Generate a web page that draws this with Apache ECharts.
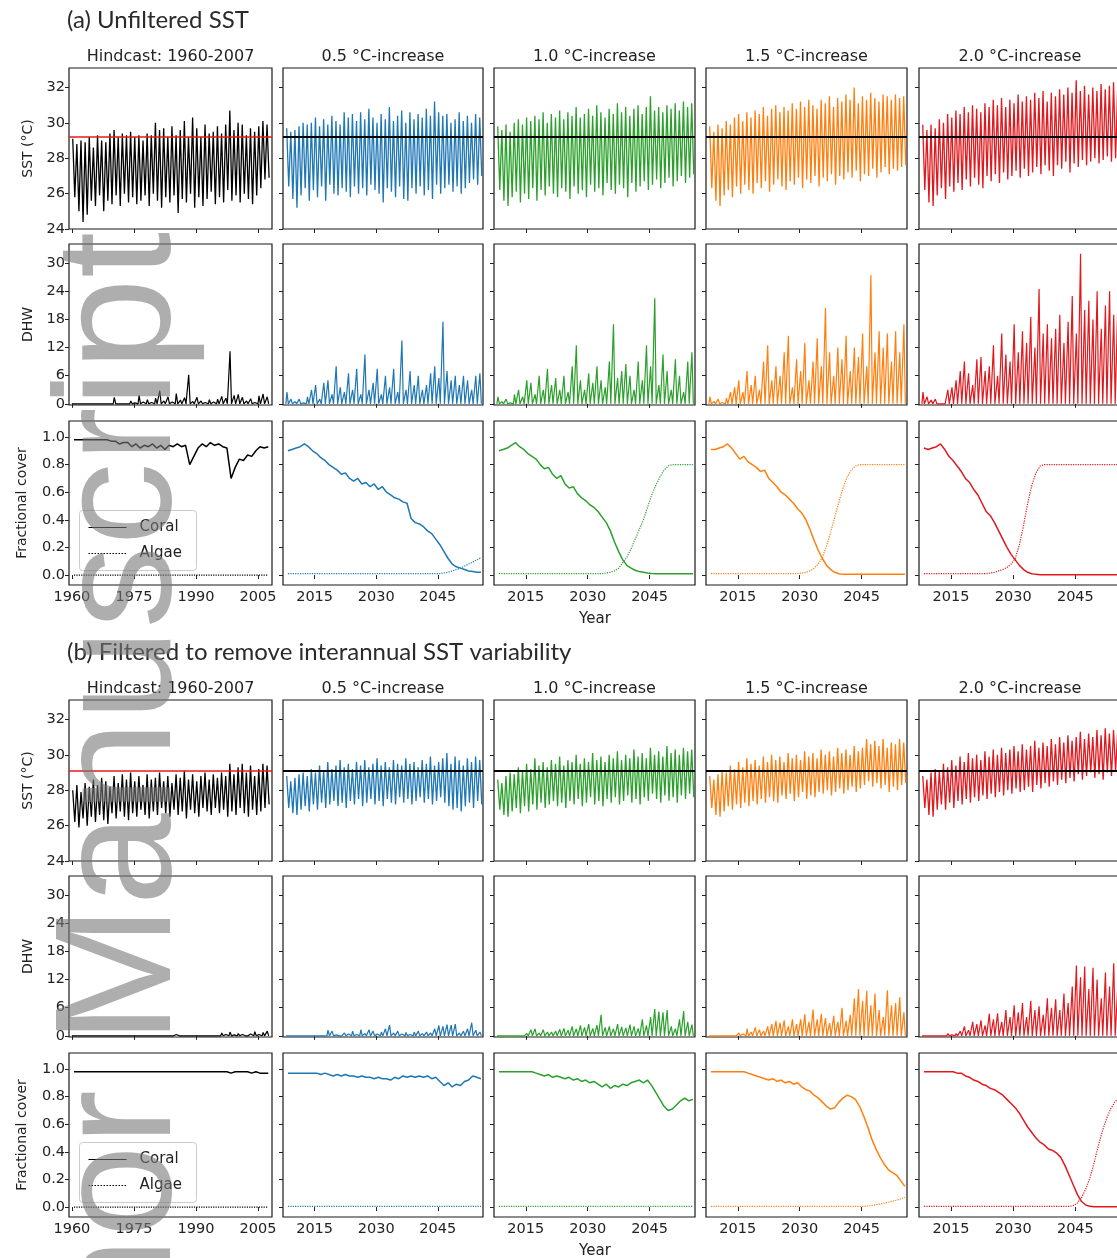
<!DOCTYPE html>
<html>
<head>
<meta charset="utf-8">
<title>Unfiltered and filtered SST, DHW and cover</title>
<script src="https://cdn.jsdelivr.net/npm/echarts@6/dist/echarts.min.js"></script>
<style>
    html, body { margin: 0; padding: 0; background: #fff; }
    #chart { width: 1117px; height: 1258px; }
</style>
</head>
<body>
<div id="chart"></div>
<script>
// years: hindcast 1960-2007, scenarios 2008-2055 (one value per year)
var HC_START = 1960;
var SC_START = 2008;

var COL_TITLES = ['Hindcast: 1960-2007', '0.5 °C-increase', '1.0 °C-increase', '1.5 °C-increase', '2.0 °C-increase'];
var COLORS = ['#000000', '#1f77b4', '#2ca02c', '#ff7f0e', '#e0191e'];
var X_TICKS_HC = [1960, 1975, 1990, 2005];
var X_TICKS_SC = [2015, 2030, 2045];
var SST_TICKS = [24, 26, 28, 30, 32];
var DHW_TICKS = [0, 6, 12, 18, 24, 30];
var COVER_TICKS = [0, 0.2, 0.4, 0.6, 0.8, 1.0];
var MMM_A = 29.2; // bleaching threshold line (a)
var MMM_B = 29.1; // (b)

// ---- (a) unfiltered SST: yearly peaks / troughs ----
var A_SST_MAX_HC = [29.1,28.8,29.0,28.9,29.2,28.6,29.3,29.0,28.9,29.4,29.6,29.2,29.4,29.3,29.5,29.2,29.3,29.0,29.4,29.3,30.0,29.6,29.7,29.2,29.8,29.3,29.6,30.1,29.2,30.3,29.7,29.2,29.9,29.4,29.5,29.8,29.4,29.9,30.7,29.6,30.0,29.9,29.3,29.7,29.5,29.8,30.1,29.9];
var A_SST_MIN_HC = [25.8,25.0,24.4,24.8,25.6,25.3,25.9,25.0,25.6,25.4,25.9,25.3,26.0,25.5,25.8,25.4,25.6,25.9,25.3,26.0,25.6,25.2,25.8,25.5,25.9,24.9,25.7,25.5,26.0,25.2,25.8,25.3,25.7,26.1,25.4,25.8,25.5,26.2,25.6,25.9,25.5,26.0,25.7,25.4,25.9,26.3,26.8,26.9];
var A_SST_MAX_05 = [29.7,29.5,29.6,29.8,30.0,29.9,30.0,30.3,29.8,30.2,29.9,30.4,30.1,29.9,30.6,30.3,30.5,30.1,30.6,30.2,30.8,30.3,30.0,30.5,30.2,30.9,30.1,30.4,30.7,30.0,30.6,30.2,30.5,30.3,30.8,30.4,31.2,30.6,30.4,30.5,30.0,30.2,30.6,30.1,30.4,30.0,30.5,30.3];
var A_SST_MIN_05 = [26.4,25.7,25.2,25.9,26.3,25.6,26.2,25.8,26.4,25.6,26.5,26.0,25.9,26.3,26.1,25.8,26.4,26.0,26.3,25.9,26.5,26.2,26.0,25.5,26.3,26.1,25.8,26.4,25.7,25.6,26.3,26.0,26.4,25.9,26.2,25.7,26.5,26.0,26.3,26.5,26.1,26.4,26.0,26.3,26.6,26.8,26.5,27.0];
var A_SST_MAX_10 = [29.8,29.6,29.9,29.5,30.0,30.2,29.9,30.3,30.1,30.4,30.2,30.6,30.0,30.5,30.3,30.7,30.2,30.6,30.4,30.9,30.3,30.5,30.8,30.4,31.0,30.6,30.3,30.8,30.5,31.1,30.6,30.9,30.4,30.8,31.0,30.5,30.9,31.5,30.7,30.9,30.6,31.0,30.8,31.1,30.7,31.2,30.9,31.1];
var A_SST_MIN_10 = [26.2,25.6,25.3,25.8,26.1,25.5,26.0,25.7,26.3,25.6,26.2,25.9,26.4,26.0,25.8,26.3,26.1,25.7,26.4,26.0,26.2,25.8,26.5,26.1,26.3,25.9,26.6,26.2,26.0,26.5,26.3,25.8,26.6,26.1,26.4,26.7,26.2,26.5,26.8,26.3,26.6,26.9,26.4,26.7,27.0,26.6,26.9,27.1];
var A_SST_MAX_15 = [29.8,29.5,29.9,29.7,30.1,29.9,30.3,30.5,30.1,30.6,30.3,30.7,30.5,30.9,30.4,30.8,31.0,30.6,30.9,30.7,31.1,30.8,31.2,30.9,31.3,31.0,30.8,31.3,31.1,31.5,30.9,31.4,31.2,31.6,31.3,32.0,31.1,31.5,31.3,31.7,31.4,31.2,31.6,31.5,31.3,31.6,31.4,31.5];
var A_SST_MIN_15 = [26.3,25.6,25.3,25.9,26.2,25.8,26.4,26.0,26.5,26.2,26.0,26.6,26.3,26.7,26.1,26.5,26.8,26.4,26.2,26.7,26.5,26.9,26.3,26.8,26.6,27.0,26.4,26.9,26.7,27.1,26.5,27.0,26.8,27.2,26.9,27.3,26.7,27.1,27.0,27.4,26.9,27.2,27.5,27.1,27.4,27.3,27.5,27.6];
var A_SST_MAX_20 = [29.9,29.6,29.9,29.7,30.2,30.0,30.5,30.3,30.7,30.5,30.9,30.6,31.0,30.8,30.6,31.1,30.9,31.3,31.0,31.4,30.9,31.3,31.1,31.6,31.2,31.5,31.3,31.7,31.4,31.8,31.2,31.7,31.5,31.9,31.6,32.0,31.7,32.4,31.8,32.1,31.6,32.0,31.8,32.2,31.9,32.1,32.3,32.0];
var A_SST_MIN_20 = [26.2,25.5,25.3,25.9,26.3,25.7,26.4,26.1,26.6,26.2,26.8,26.4,26.9,26.5,26.3,27.0,26.7,27.1,26.6,27.2,26.8,27.0,27.3,26.9,27.4,27.0,27.2,27.5,27.1,27.6,27.3,27.0,27.6,27.4,27.8,27.2,27.7,27.5,27.9,27.6,27.8,28.0,27.7,27.9,28.1,27.8,28.0,28.2];

// ---- (a) DHW yearly peaks ----
var A_DHW_HC = [0,0,0,0,0,0,0,0,0,0,1.4,0,0.3,0,0.6,0.2,1.8,0.4,0.9,0.3,1.2,2.8,0.6,1.5,0.4,2.2,0.8,1.3,6.2,0.5,1.4,0.6,0.3,0.9,0.4,1.0,1.6,1.2,11.2,1.8,2.0,1.4,0.6,1.1,0.3,1.7,2.1,1.5];
var A_DHW_05 = [2.5,1.0,0.5,1.0,0.2,1.5,3.0,4.0,1.0,4.5,5.0,2.0,8.0,3.5,2.5,6.5,3.0,7.5,2.0,10.5,3.0,4.5,7.5,2.0,6.0,3.5,7.5,2.5,13.5,3.0,7.0,4.0,6.0,3.0,4.0,6.5,8.0,5.5,17.5,7.0,5.0,6.0,4.0,6.0,5.0,3.0,6.0,6.5];
var A_DHW_10 = [1.5,0.5,1.0,0.2,2.0,3.0,1.5,5.0,4.5,2.0,6.0,3.0,7.5,4.0,5.5,3.0,6.0,2.5,8.0,12.5,5.0,3.0,6.5,4.5,8.0,5.0,3.5,9.0,17.0,5.5,7.0,8.5,6.0,3.0,9.0,5.0,12.5,8.0,22.5,4.0,10.5,7.0,3.0,9.5,6.0,2.5,9.0,11.0];
var A_DHW_15 = [1.5,0.5,1.0,0.3,1.2,2.5,3.5,5.0,2.5,7.0,4.0,6.0,3.0,9.0,12.5,5.0,8.0,6.0,11.0,14.5,3.5,9.5,7.0,13.0,5.0,9.0,14.0,8.0,20.5,11.0,6.0,12.0,9.5,14.5,7.0,12.0,10.0,15.0,8.0,27.5,11.0,15.5,12.0,15.0,9.0,15.5,11.0,17.0];
var A_DHW_20 = [2.5,1.5,0.8,1.0,0,0,3.0,3.5,5.0,7.0,9.0,6.5,4.0,9.5,10.0,7.0,8.0,12.5,6.0,15.0,10.5,9.0,17.0,11.0,15.5,13.0,18.5,12.0,24.5,15.0,17.0,14.0,16.0,19.0,13.0,17.5,23.0,15.0,32.0,20.0,22.0,18.0,24.0,16.0,21.0,24.0,19.0,22.0];

// ---- (a) fractional cover, one value per year ----
var A_CORAL_HC = [0.98,0.98,0.98,0.98,0.98,0.98,0.98,0.98,0.98,0.97,0.97,0.95,0.96,0.96,0.93,0.95,0.92,0.94,0.93,0.95,0.92,0.94,0.91,0.94,0.93,0.95,0.93,0.94,0.80,0.86,0.92,0.95,0.93,0.96,0.94,0.95,0.93,0.92,0.70,0.78,0.84,0.83,0.87,0.86,0.90,0.93,0.92,0.93];
var ALGAE_HC = [0,0,0,0,0,0,0,0,0,0,0,0,0,0,0,0,0,0,0,0,0,0,0,0,0,0,0,0,0,0,0,0,0,0,0,0,0,0,0,0,0,0,0,0,0,0,0,0];
var A_CORAL_05 = [0.90,0.91,0.92,0.93,0.95,0.93,0.90,0.88,0.85,0.83,0.80,0.78,0.76,0.73,0.74,0.70,0.68,0.70,0.66,0.67,0.64,0.66,0.62,0.64,0.60,0.58,0.56,0.55,0.53,0.52,0.41,0.38,0.37,0.35,0.32,0.30,0.26,0.22,0.17,0.12,0.08,0.06,0.05,0.04,0.03,0.025,0.02,0.02];
var A_ALGAE_05 = [0.01,0.01,0.01,0.01,0.01,0.01,0.01,0.01,0.01,0.01,0.01,0.01,0.01,0.01,0.01,0.01,0.01,0.01,0.01,0.01,0.01,0.01,0.01,0.01,0.01,0.01,0.01,0.01,0.01,0.01,0.01,0.01,0.01,0.01,0.01,0.01,0.01,0.01,0.015,0.02,0.03,0.04,0.05,0.065,0.08,0.095,0.11,0.125];
var A_CORAL_10 = [0.90,0.91,0.92,0.94,0.96,0.93,0.91,0.88,0.86,0.84,0.80,0.77,0.78,0.73,0.70,0.72,0.66,0.63,0.64,0.59,0.56,0.54,0.51,0.49,0.46,0.42,0.38,0.32,0.24,0.17,0.11,0.07,0.05,0.035,0.025,0.02,0.015,0.012,0.01,0.01,0.01,0.01,0.01,0.01,0.01,0.01,0.01,0.01];
var A_ALGAE_10 = [0.01,0.01,0.01,0.01,0.01,0.01,0.01,0.01,0.01,0.01,0.01,0.01,0.01,0.01,0.01,0.01,0.01,0.01,0.01,0.01,0.01,0.01,0.01,0.01,0.01,0.01,0.015,0.02,0.03,0.05,0.09,0.13,0.19,0.26,0.33,0.40,0.49,0.58,0.65,0.71,0.76,0.79,0.80,0.80,0.80,0.80,0.80,0.80];
var A_CORAL_15 = [0.91,0.91,0.92,0.93,0.95,0.92,0.88,0.84,0.86,0.82,0.80,0.78,0.75,0.76,0.70,0.67,0.64,0.60,0.58,0.55,0.52,0.48,0.45,0.40,0.33,0.25,0.18,0.12,0.07,0.04,0.02,0.01,0.005,0.005,0.005,0.005,0.005,0.005,0.005,0.005,0.005,0.005,0.005,0.005,0.005,0.005,0.005,0.005];
var A_ALGAE_15 = [0.01,0.01,0.01,0.01,0.01,0.01,0.01,0.01,0.01,0.01,0.01,0.01,0.01,0.01,0.01,0.01,0.01,0.01,0.01,0.01,0.01,0.01,0.015,0.02,0.03,0.05,0.08,0.13,0.21,0.31,0.42,0.53,0.63,0.71,0.76,0.79,0.80,0.80,0.80,0.80,0.80,0.80,0.80,0.80,0.80,0.80,0.80,0.80];
var A_CORAL_20 = [0.92,0.91,0.92,0.93,0.95,0.91,0.86,0.83,0.79,0.75,0.70,0.67,0.62,0.58,0.52,0.46,0.43,0.38,0.32,0.26,0.20,0.15,0.11,0.07,0.04,0.02,0.01,0.005,0.003,0.003,0.003,0.003,0.003,0.003,0.003,0.003,0.003,0.003,0.003,0.003,0.003,0.003,0.003,0.003,0.003,0.003,0.003,0.003];
var A_ALGAE_20 = [0.01,0.01,0.01,0.01,0.01,0.01,0.01,0.01,0.01,0.01,0.01,0.01,0.01,0.01,0.01,0.01,0.015,0.02,0.03,0.04,0.055,0.08,0.12,0.22,0.36,0.52,0.65,0.74,0.79,0.80,0.80,0.80,0.80,0.80,0.80,0.80,0.80,0.80,0.80,0.80,0.80,0.80,0.80,0.80,0.80,0.80,0.80,0.80];

// ---- (b) filtered SST: yearly peaks / troughs ----
var B_SST_MAX_HC = [28.0,28.3,27.9,28.4,28.2,28.6,28.3,28.7,28.5,28.2,28.8,28.4,28.9,28.6,29.0,28.5,28.8,28.3,28.9,28.6,28.7,29.0,28.5,28.8,28.4,28.9,28.7,29.1,28.6,28.9,28.5,28.8,29.0,28.6,28.9,28.7,29.0,28.8,29.5,28.9,29.3,29.5,29.0,29.4,28.8,29.2,29.5,29.4];
var B_SST_MIN_HC = [26.2,25.9,26.4,26.0,26.5,26.2,26.6,26.3,26.1,26.7,26.4,26.8,26.5,26.3,26.7,26.5,26.9,26.6,26.4,26.8,26.6,27.0,26.7,26.5,26.9,26.6,26.8,26.4,26.9,26.7,26.5,27.0,26.8,26.6,27.0,26.7,26.9,26.5,26.8,26.6,27.0,26.7,26.5,26.9,26.6,26.8,27.0,27.2];
var B_SST_MAX_05 = [28.8,28.5,28.7,28.9,29.0,28.8,29.2,29.0,29.4,29.1,29.6,29.2,29.4,29.7,29.3,29.5,29.2,29.6,29.4,29.7,29.3,29.5,29.8,29.4,29.6,29.3,29.7,29.5,29.4,29.8,29.5,29.6,29.3,29.7,29.5,29.9,29.4,29.6,29.8,30.1,29.5,29.9,29.7,29.4,29.8,29.6,29.9,29.7];
var B_SST_MIN_05 = [27.0,26.7,26.6,26.9,27.1,26.8,27.2,26.9,27.3,27.0,27.2,27.4,27.1,27.3,27.0,27.4,27.2,27.5,27.1,27.3,27.5,27.2,27.4,27.1,27.5,27.3,27.2,27.6,27.3,27.5,27.2,27.4,27.6,27.3,27.5,27.2,27.4,27.6,27.3,27.1,26.9,27.0,26.8,27.1,27.3,27.0,27.4,27.2];
var B_SST_MAX_10 = [28.6,28.4,28.8,29.0,28.9,29.3,29.1,29.5,29.2,29.8,29.4,29.6,29.3,29.7,29.5,29.9,29.4,29.7,29.6,30.0,29.5,29.8,29.6,30.1,29.7,29.9,29.6,30.0,29.8,30.2,29.7,30.0,29.8,30.3,29.9,30.1,29.8,30.4,30.0,30.2,29.9,30.5,30.1,30.3,30.0,30.4,30.2,30.3];
var B_SST_MIN_10 = [26.9,26.6,26.5,26.8,27.0,26.7,27.1,26.8,27.2,26.9,27.3,27.0,27.2,27.4,27.1,27.3,27.0,27.4,27.2,27.5,27.1,27.3,27.6,27.2,27.4,27.1,27.5,27.3,27.6,27.2,27.4,27.7,27.3,27.5,27.2,27.6,27.4,27.8,27.5,27.3,27.7,27.4,27.6,27.3,27.7,27.5,27.8,27.6];
var B_SST_MAX_15 = [28.8,28.6,28.9,29.1,29.0,29.4,29.2,29.6,29.3,29.8,29.5,29.7,29.4,29.9,29.6,30.0,29.7,29.9,29.6,30.1,29.8,30.0,29.7,30.2,29.9,30.1,29.8,30.3,30.0,30.2,29.9,30.4,30.1,30.3,30.0,30.5,30.2,30.4,30.9,30.6,30.8,30.5,30.9,30.4,30.7,30.6,30.9,30.7];
var B_SST_MIN_15 = [27.0,26.6,26.5,26.8,27.1,26.9,27.2,27.0,27.3,27.1,27.4,27.2,27.5,27.3,27.6,27.4,27.3,27.7,27.5,27.8,27.4,27.6,27.9,27.5,27.7,27.6,27.9,27.8,28.0,27.7,27.9,28.1,27.8,28.0,28.2,27.9,28.1,28.3,28.5,28.2,28.4,28.1,28.3,27.9,28.2,28.0,28.3,28.4];
var B_SST_MAX_20 = [28.8,28.6,29.0,29.2,29.1,29.5,29.3,29.7,29.4,29.9,29.6,30.1,29.8,30.0,29.7,30.2,29.9,30.3,30.0,30.4,30.1,30.3,30.5,30.2,30.6,30.3,30.5,30.8,30.4,30.7,30.5,30.9,30.6,31.0,30.7,31.1,30.8,31.0,31.3,30.9,31.2,31.0,31.4,31.1,31.5,31.2,31.4,31.3];
var B_SST_MIN_20 = [27.0,26.6,26.5,26.9,27.2,26.9,27.3,27.0,27.4,27.2,27.5,27.3,27.6,27.4,27.7,27.5,27.8,27.6,27.9,27.7,28.0,27.8,28.1,27.9,28.0,28.2,27.9,28.3,28.1,28.4,28.2,28.5,28.3,28.6,28.4,28.7,28.5,28.9,28.6,28.8,29.0,28.7,28.9,28.6,29.0,28.8,29.1,28.9];

// ---- (b) DHW yearly peaks ----
var B_DHW_HC = [0,0,0,0,0,0,0,0,0,0,0,0,0,0,0,0,0,0,0,0,0,0,0,0,0,0.3,0,0,0,0,0,0,0,0,0.2,0,0.6,0.3,0.8,0.2,0.5,0.3,0.2,0.4,0.9,0.3,0.7,1.0];
var B_DHW_05 = [0,0,0,0,0,0,0,0,0,0,1.2,1.0,0.2,0.3,0.6,0.4,1.0,0.3,1.3,0.5,1.3,1.0,0.4,0.8,1.5,2.3,0.6,1.0,0.4,0.7,0.3,0.8,1.0,0.5,0.8,0.6,1.5,2.2,2.0,2.4,2.3,2.5,0.6,1.0,1.5,2.8,1.2,0.8];
var B_DHW_10 = [0,0,0,0,0.2,0,0,0.5,1.3,1.5,0.6,1.3,0.8,0.8,1.0,1.4,1.6,1.2,2.0,1.5,2.2,1.8,2.5,1.6,2.3,4.5,1.8,2.0,1.5,2.5,1.9,1.7,2.4,2.0,1.6,3.5,2.2,4.0,5.7,5.2,5.0,5.5,2.0,1.5,3.5,5.3,3.0,2.4];
var B_DHW_15 = [0,0,0,0,0.3,0,0,0.6,0.4,1.5,0.8,1.8,1.3,1.0,2.0,2.5,3.2,2.8,3.3,2.0,3.5,2.5,3.5,4.6,3.0,5.6,3.5,4.7,3.8,2.7,4.3,3.0,6.0,3.2,4.5,8.0,10.0,7.5,9.6,6.5,9.0,5.5,4.0,9.7,6.5,7.0,8.2,5.0];
var B_DHW_20 = [0,0,0,0,0,0,0.5,0.2,0.5,1.0,2.0,1.2,3.0,2.5,3.3,2.2,4.7,3.5,4.8,3.0,5.5,4.0,6.5,5.0,7.0,4.0,7.5,5.5,6.3,4.5,8.0,6.0,7.8,5.5,9.0,7.0,10.5,15.0,12.5,14.8,10.0,14.5,12.0,8.0,13.5,10.5,15.5,11.0];

// ---- (b) fractional cover ----
var B_CORAL_HC = [0.98,0.98,0.98,0.98,0.98,0.98,0.98,0.98,0.98,0.98,0.98,0.98,0.98,0.98,0.98,0.98,0.98,0.98,0.98,0.98,0.98,0.98,0.98,0.98,0.98,0.98,0.98,0.98,0.98,0.98,0.98,0.98,0.98,0.98,0.98,0.98,0.98,0.98,0.97,0.98,0.98,0.98,0.98,0.97,0.98,0.97,0.97,0.97];
var B_CORAL_05 = [0.97,0.97,0.97,0.97,0.97,0.97,0.97,0.97,0.96,0.97,0.96,0.95,0.96,0.95,0.96,0.95,0.95,0.94,0.95,0.94,0.94,0.93,0.94,0.93,0.93,0.92,0.94,0.93,0.95,0.94,0.95,0.94,0.95,0.94,0.95,0.93,0.94,0.91,0.88,0.90,0.87,0.89,0.88,0.91,0.92,0.95,0.94,0.93];
var B_ALGAE_05 = [0.005,0.005,0.005,0.005,0.005,0.005,0.005,0.005,0.005,0.005,0.005,0.005,0.005,0.005,0.005,0.005,0.005,0.005,0.005,0.005,0.005,0.005,0.005,0.005,0.005,0.005,0.005,0.005,0.005,0.005,0.005,0.005,0.005,0.005,0.005,0.005,0.005,0.005,0.005,0.005,0.005,0.005,0.005,0.005,0.005,0.005,0.005,0.005];
var B_CORAL_10 = [0.98,0.98,0.98,0.98,0.98,0.98,0.98,0.98,0.98,0.97,0.96,0.95,0.96,0.94,0.95,0.94,0.93,0.94,0.92,0.93,0.91,0.92,0.90,0.91,0.89,0.87,0.89,0.86,0.88,0.87,0.89,0.88,0.90,0.91,0.92,0.90,0.92,0.88,0.83,0.78,0.73,0.70,0.71,0.74,0.77,0.79,0.77,0.78];
var B_ALGAE_10 = [0.005,0.005,0.005,0.005,0.005,0.005,0.005,0.005,0.005,0.005,0.005,0.005,0.005,0.005,0.005,0.005,0.005,0.005,0.005,0.005,0.005,0.005,0.005,0.005,0.005,0.005,0.005,0.005,0.005,0.005,0.005,0.005,0.005,0.005,0.005,0.005,0.005,0.005,0.005,0.005,0.005,0.005,0.005,0.005,0.005,0.005,0.005,0.005];
var B_CORAL_15 = [0.98,0.98,0.98,0.98,0.98,0.98,0.98,0.98,0.98,0.97,0.96,0.95,0.94,0.93,0.92,0.93,0.91,0.92,0.90,0.91,0.89,0.90,0.87,0.85,0.84,0.81,0.79,0.76,0.73,0.71,0.72,0.76,0.79,0.81,0.80,0.78,0.73,0.66,0.58,0.49,0.42,0.36,0.31,0.27,0.25,0.23,0.19,0.15];
var B_ALGAE_15 = [0.005,0.005,0.005,0.005,0.005,0.005,0.005,0.005,0.005,0.005,0.005,0.005,0.005,0.005,0.005,0.005,0.005,0.005,0.005,0.005,0.005,0.005,0.005,0.005,0.005,0.005,0.005,0.005,0.005,0.005,0.005,0.005,0.005,0.005,0.005,0.005,0.005,0.005,0.008,0.012,0.017,0.022,0.028,0.035,0.043,0.05,0.06,0.07];
var B_CORAL_20 = [0.98,0.98,0.98,0.98,0.98,0.98,0.98,0.98,0.97,0.97,0.95,0.94,0.92,0.91,0.89,0.88,0.86,0.85,0.83,0.81,0.78,0.75,0.72,0.68,0.63,0.58,0.54,0.50,0.47,0.45,0.42,0.41,0.39,0.36,0.30,0.23,0.16,0.09,0.04,0.015,0.005,0.003,0.003,0.003,0.003,0.003,0.003,0.003];
var B_ALGAE_20 = [0.005,0.005,0.005,0.005,0.005,0.005,0.005,0.005,0.005,0.005,0.005,0.005,0.005,0.005,0.005,0.005,0.005,0.005,0.005,0.005,0.005,0.005,0.005,0.005,0.005,0.005,0.005,0.005,0.005,0.005,0.005,0.005,0.005,0.005,0.005,0.005,0.01,0.03,0.07,0.13,0.21,0.32,0.44,0.55,0.64,0.71,0.76,0.79];

// per section: [hindcast, 0.5, 1.0, 1.5, 2.0]
var SECTIONS = [
    {
        title: '(a) Unfiltered SST', mmm: MMM_A,
        sstMax: [A_SST_MAX_HC, A_SST_MAX_05, A_SST_MAX_10, A_SST_MAX_15, A_SST_MAX_20],
        sstMin: [A_SST_MIN_HC, A_SST_MIN_05, A_SST_MIN_10, A_SST_MIN_15, A_SST_MIN_20],
        dhw: [A_DHW_HC, A_DHW_05, A_DHW_10, A_DHW_15, A_DHW_20],
        coral: [A_CORAL_HC, A_CORAL_05, A_CORAL_10, A_CORAL_15, A_CORAL_20],
        algae: [ALGAE_HC, A_ALGAE_05, A_ALGAE_10, A_ALGAE_15, A_ALGAE_20]
    },
    {
        title: '(b) Filtered to remove interannual SST variability', mmm: MMM_B,
        sstMax: [B_SST_MAX_HC, B_SST_MAX_05, B_SST_MAX_10, B_SST_MAX_15, B_SST_MAX_20],
        sstMin: [B_SST_MIN_HC, B_SST_MIN_05, B_SST_MIN_10, B_SST_MIN_15, B_SST_MIN_20],
        dhw: [B_DHW_HC, B_DHW_05, B_DHW_10, B_DHW_15, B_DHW_20],
        coral: [B_CORAL_HC, B_CORAL_05, B_CORAL_10, B_CORAL_15, B_CORAL_20],
        algae: [ALGAE_HC, B_ALGAE_05, B_ALGAE_10, B_ALGAE_15, B_ALGAE_20]
    }
];

// layout (px)
var COL_LEFT = [69, 283, 494, 706, 919];
var COL_W = [203, 200, 201, 201, 202];
var ROW_TOP = [68, 244, 421];
var ROW_H = [161, 161, 164];
var SECTION_DY = [0, 632];
var FONT = '"DejaVu Sans", sans-serif';
var INK = '#222';

var ROWS = [
    { name: 'SST (°C)', min: 24, max: 33.1, ticks: SST_TICKS, gap: 34 },
    { name: 'DHW', min: -0.25, max: 34.1, ticks: DHW_TICKS, gap: 34 },
    { name: 'Fractional cover', min: -0.072, max: 1.116, ticks: COVER_TICKS, gap: 40 }
];

function sstPoints(start, hi, lo) {
    var pts = [];
    for (var i = 0; i < hi.length; i++) {
        pts.push([start + i + 0.2, hi[i]]);
        pts.push([start + i + 0.7, lo[i]]);
    }
    return pts;
}
function dhwPoints(start, vals) {
    var pts = [];
    for (var i = 0; i < vals.length; i++) {
        pts.push([start + i, 0]);
        pts.push([start + i + 0.25, vals[i]]);
        pts.push([start + i + 0.6, 0]);
    }
    return pts;
}
function yearPoints(start, vals) {
    var pts = [];
    for (var i = 0; i < vals.length; i++) {
        pts.push([start + i + 0.5, vals[i]]);
    }
    return pts;
}

var grids = [], xAxes = [], yAxes = [], series = [], graphics = [];

SECTIONS.forEach(function (sec, s) {
    var dy = SECTION_DY[s];
    graphics.push({
        type: 'text', left: 67, top: 8 + dy,
        style: { text: sec.title, font: '24px Lato, "Open Sans", sans-serif', fill: '#2a2a2a' }
    });
    for (var c = 0; c < 5; c++) {
        graphics.push({
            type: 'text', x: COL_LEFT[c] + COL_W[c] / 2, y: 57 + dy,
            style: { text: COL_TITLES[c], font: '16px ' + FONT, fill: INK, align: 'center', verticalAlign: 'middle' }
        });
    }
    graphics.push({
        type: 'text', x: 595, y: 619 + dy,
        style: { text: 'Year', font: '15px ' + FONT, fill: INK, align: 'center', verticalAlign: 'middle' }
    });

    for (var r = 0; r < 3; r++) {
        for (var c2 = 0; c2 < 5; c2++) {
            var idx = grids.length;
            var row = ROWS[r];
            var hc = c2 === 0;
            var start = hc ? HC_START : SC_START;
            var xt = hc ? X_TICKS_HC : X_TICKS_SC;
            grids.push({
                left: COL_LEFT[c2], top: ROW_TOP[r] + dy, width: COL_W[c2], height: ROW_H[r],
                show: true, borderColor: '#1a1a1a', borderWidth: 1.2, backgroundColor: 'transparent',
                outerBoundsMode: 'none', containLabel: false
            });
            xAxes.push({
                type: 'value', gridIndex: idx,
                min: hc ? 1959.3 : 2007.3, max: hc ? 2008.4 : 2056.0,
                axisLine: { show: false }, splitLine: { show: false },
                axisTick: { show: true, length: 4, lineStyle: { color: INK }, customValues: xt },
                axisLabel: {
                    show: r === 2, customValues: xt, fontSize: 14.5, fontFamily: FONT, color: INK, margin: 5,
                    formatter: function (v) { return String(v); }
                }
            });
            yAxes.push({
                type: 'value', gridIndex: idx, min: row.min, max: row.max,
                axisLine: { show: false }, splitLine: { show: false },
                axisTick: { show: true, length: 4, lineStyle: { color: INK }, customValues: row.ticks },
                axisLabel: {
                    show: hc, customValues: row.ticks, fontSize: 14.5, fontFamily: FONT, color: INK, margin: 4,
                    formatter: r === 2 ? function (v) { return v.toFixed(1); } : '{value}'
                },
                name: hc ? row.name : '', nameLocation: 'middle', nameGap: row.gap, nameRotate: 90,
                nameTextStyle: { fontSize: 14, fontFamily: FONT, color: INK }
            });

            var col = COLORS[c2];
            var base = { type: 'line', xAxisIndex: idx, yAxisIndex: idx, showSymbol: false, silent: true, animation: false };
            if (r === 0) {
                series.push(Object.assign({}, base, {
                    data: sstPoints(start, sec.sstMax[c2], sec.sstMin[c2]),
                    lineStyle: { color: col, width: 1.3 },
                    markLine: {
                        silent: true, symbol: 'none', label: { show: false },
                        lineStyle: { color: hc ? '#e41a1c' : '#000', width: hc ? 1.5 : 2, type: 'solid' },
                        data: [{ yAxis: sec.mmm }]
                    }
                }));
            } else if (r === 1) {
                series.push(Object.assign({}, base, {
                    data: dhwPoints(start, sec.dhw[c2]),
                    lineStyle: { color: col, width: 1.2 }
                }));
            } else {
                series.push(Object.assign({}, base, {
                    name: 'Coral', data: yearPoints(start, sec.coral[c2]),
                    lineStyle: { color: col, width: 1.5 }
                }));
                series.push(Object.assign({}, base, {
                    name: 'Algae', data: yearPoints(start, sec.algae[c2]),
                    lineStyle: { color: col, width: 1.2, type: 'dotted' }
                }));
            }
        }
    }

    // legend box in the hindcast cover panel
    graphics.push({
        type: 'group', left: 79, top: 510 + dy,
        children: [
            { type: 'rect', shape: { x: 0, y: 0, width: 117, height: 60, r: 3 },
              style: { fill: 'rgba(255,255,255,0.8)', stroke: '#cccccc', lineWidth: 1 } },
            { type: 'line', shape: { x1: 9, y1: 17, x2: 47, y2: 17 }, style: { stroke: '#000', lineWidth: 1.2 } },
            { type: 'line', shape: { x1: 9, y1: 43, x2: 47, y2: 43 }, style: { stroke: '#000', lineWidth: 1.2, lineDash: [1.5, 1.5] } },
            { type: 'text', x: 60, y: 17, style: { text: 'Coral', font: '15px ' + FONT, fill: INK, verticalAlign: 'middle' } },
            { type: 'text', x: 60, y: 43, style: { text: 'Algae', font: '15px ' + FONT, fill: INK, verticalAlign: 'middle' } }
        ]
    });
});

// big grey watermark along the left edge
graphics.push({
    type: 'text', x: 124, y: 232, rotation: Math.PI / 2, z: 100,
    style: {
        text: 'Author Manuscript', font: '166px "Liberation Sans", Arial, sans-serif',
        fill: 'rgba(120,120,120,0.6)', align: 'right', verticalAlign: 'middle'
    }
});

var chart = echarts.init(document.getElementById('chart'), null, { renderer: 'canvas' });
chart.setOption({
    animation: false,
    backgroundColor: '#ffffff',
    grid: grids,
    xAxis: xAxes,
    yAxis: yAxes,
    series: series,
    graphic: graphics
});
</script>
</body>
</html>
